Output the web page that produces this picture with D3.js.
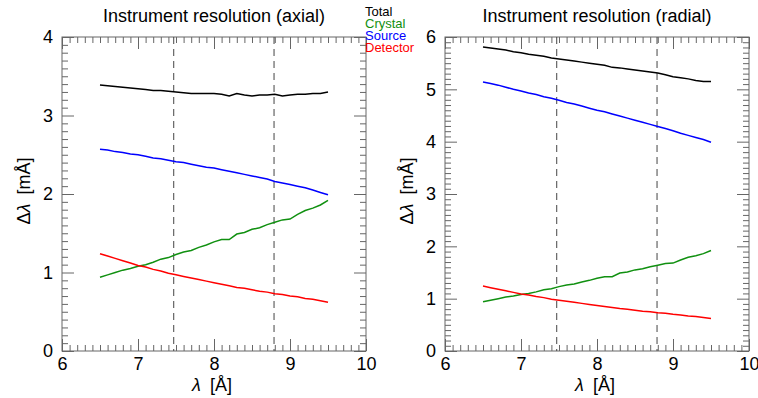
<!DOCTYPE html>
<html>
<head>
<meta charset="utf-8">
<script src="https://cdn.jsdelivr.net/npm/d3@7"></script>
<style>
  body { margin: 0; background: #fff; }
  svg { display: block; font-family: "Liberation Sans", Arial, Helvetica, sans-serif; }
</style>
</head>
<body>
<svg id="chart" width="758" height="398"></svg>
<script>
// wavelength grid [A]
const lambda = [6.5, 6.6, 6.7, 6.8, 6.9, 7.0, 7.1, 7.2, 7.3, 7.4, 7.5, 7.6, 7.7, 7.8, 7.9, 8.0,
                8.1, 8.2, 8.3, 8.4, 8.5, 8.6, 8.7, 8.8, 8.9, 9.0, 9.1, 9.2, 9.3, 9.4, 9.5];

// axial contributions [mA]
const totalAxial = [3.39, 3.38, 3.37, 3.36, 3.35, 3.34, 3.33, 3.32, 3.32, 3.31, 3.30, 3.29, 3.28, 3.28, 3.28, 3.28,
                    3.27, 3.25, 3.28, 3.26, 3.25, 3.26, 3.26, 3.27, 3.25, 3.26, 3.27, 3.27, 3.28, 3.28, 3.30];
const sourceAxial = [2.57, 2.56, 2.54, 2.53, 2.51, 2.50, 2.48, 2.46, 2.45, 2.43, 2.41, 2.40, 2.38, 2.36, 2.34, 2.33,
                     2.31, 2.29, 2.27, 2.25, 2.23, 2.21, 2.19, 2.16, 2.14, 2.12, 2.10, 2.08, 2.05, 2.02, 1.99];

// radial contributions [mA]
const totalRadial = [5.81, 5.79, 5.77, 5.75, 5.72, 5.70, 5.67, 5.65, 5.63, 5.60, 5.58, 5.56, 5.54, 5.52, 5.50, 5.48,
                     5.46, 5.42, 5.41, 5.39, 5.37, 5.35, 5.33, 5.31, 5.28, 5.24, 5.22, 5.20, 5.17, 5.15, 5.15];
const sourceRadial = [5.14, 5.11, 5.08, 5.04, 5.00, 4.97, 4.93, 4.90, 4.86, 4.83, 4.79, 4.75, 4.72, 4.68, 4.64, 4.60,
                      4.57, 4.53, 4.49, 4.45, 4.41, 4.37, 4.33, 4.29, 4.25, 4.21, 4.16, 4.12, 4.08, 4.04, 3.99];

// shared by both panels
const crystal = [0.94, 0.97, 1.00, 1.03, 1.05, 1.08, 1.10, 1.13, 1.17, 1.19, 1.23, 1.26, 1.28, 1.32, 1.35, 1.39,
                 1.42, 1.42, 1.49, 1.51, 1.55, 1.57, 1.61, 1.64, 1.67, 1.68, 1.74, 1.79, 1.82, 1.86, 1.92];
const detector = [1.24, 1.21, 1.18, 1.15, 1.12, 1.09, 1.07, 1.04, 1.02, 0.99, 0.97, 0.95, 0.93, 0.91, 0.89, 0.87,
                  0.85, 0.83, 0.81, 0.80, 0.78, 0.76, 0.75, 0.73, 0.72, 0.70, 0.69, 0.67, 0.66, 0.64, 0.62];

const markerLambda = [7.47, 8.79];
const xTicks = [6, 7, 8, 9, 10];
const axialTicks = [0, 1, 2, 3, 4];
const radialTicks = [0, 1, 2, 3, 4, 5, 6];
const legendLabels = ["Total", "Crystal", "Source", "Detector"];
const legendColors = ["#000000", "#109010", "#0000ff", "#ff0000"];

const svg = d3.select("#chart");
const axisColor = "#666";

function minorValues(lo, hi, step) {
    // every 0.1 that is not a whole number
    const out = [];
    for (let i = Math.round(lo / step); i <= Math.round(hi / step); i++) {
        if (i % 10 !== 0) out.push(i * step);
    }
    return out;
}

function drawPanel(left, title, yTicks, series) {
    const top = 37, bottom = 351, width = 304;
    const x = d3.scaleLinear().domain([6, 10]).range([left, left + width]);
    const y = d3.scaleLinear().domain([0, yTicks[yTicks.length - 1]]).range([bottom, top]);
    const g = svg.append("g");

    const styleAxis = sel => {
        sel.select(".domain").remove();
        sel.selectAll("line").attr("stroke", axisColor);
        sel.selectAll("text").attr("fill", "#000").style("font-size", "18px")
            .style("font-family", "'Liberation Sans', Arial, sans-serif");
    };

    const xMinor = minorValues(6, 10, 0.1);
    const yMinor = minorValues(0, yTicks[yTicks.length - 1], 0.1);

    // bottom axis (labels) + mirrored top, ticks point inward
    g.append("g").attr("transform", `translate(0,${bottom})`)
        .call(d3.axisBottom(x).tickValues(xTicks).tickSizeInner(-12).tickSizeOuter(0).tickPadding(6).tickFormat(d3.format("d")))
        .call(styleAxis);
    g.append("g").attr("transform", `translate(0,${bottom})`)
        .call(d3.axisBottom(x).tickValues(xMinor).tickSizeInner(-6).tickSizeOuter(0).tickFormat(""))
        .call(styleAxis);
    g.append("g").attr("transform", `translate(0,${top})`)
        .call(d3.axisTop(x).tickValues(xTicks).tickSizeInner(-12).tickSizeOuter(0).tickFormat(""))
        .call(styleAxis);
    g.append("g").attr("transform", `translate(0,${top})`)
        .call(d3.axisTop(x).tickValues(xMinor).tickSizeInner(-6).tickSizeOuter(0).tickFormat(""))
        .call(styleAxis);

    // left axis (labels) + mirrored right
    g.append("g").attr("transform", `translate(${left},0)`)
        .call(d3.axisLeft(y).tickValues(yTicks).tickSizeInner(-12).tickSizeOuter(0).tickPadding(9).tickFormat(d3.format("d")))
        .call(styleAxis);
    g.append("g").attr("transform", `translate(${left},0)`)
        .call(d3.axisLeft(y).tickValues(yMinor).tickSizeInner(-6).tickSizeOuter(0).tickFormat(""))
        .call(styleAxis);
    g.append("g").attr("transform", `translate(${left + width},0)`)
        .call(d3.axisRight(y).tickValues(yTicks).tickSizeInner(-12).tickSizeOuter(0).tickFormat(""))
        .call(styleAxis);
    g.append("g").attr("transform", `translate(${left + width},0)`)
        .call(d3.axisRight(y).tickValues(yMinor).tickSizeInner(-6).tickSizeOuter(0).tickFormat(""))
        .call(styleAxis);

    // frame
    g.append("rect")
        .attr("x", left).attr("y", top)
        .attr("width", width).attr("height", bottom - top)
        .attr("fill", "none").attr("stroke", axisColor).attr("stroke-width", 1);

    // dashed markers
    g.selectAll("line.marker").data(markerLambda).join("line")
        .attr("class", "marker")
        .attr("x1", d => x(d)).attr("x2", d => x(d))
        .attr("y1", top).attr("y2", bottom)
        .attr("stroke", "#444").attr("stroke-width", 1)
        .attr("stroke-dasharray", "7,5");

    const line = d3.line()
        .x((d, i) => x(lambda[i]))
        .y(d => y(d));

    series.forEach((vals, k) => {
        g.append("path")
            .datum(vals)
            .attr("d", line)
            .attr("fill", "none")
            .attr("stroke", legendColors[k])
            .attr("stroke-width", 1.5);
    });

    // title
    g.append("text")
        .attr("x", left + width / 2).attr("y", 22)
        .attr("text-anchor", "middle")
        .style("font-size", "18px")
        .text(title);

    // x label
    const xl = g.append("text")
        .attr("x", left + width / 2 - 2).attr("y", 391)
        .attr("text-anchor", "middle")
        .style("font-size", "18px");
    xl.append("tspan").style("font-style", "italic").text("λ");
    xl.append("tspan").text("\u2002[Å]");

    // y label
    const yl = g.append("text")
        .attr("transform", `translate(${left - 32},${(top + bottom) / 2 - 3}) rotate(-90)`)
        .attr("text-anchor", "middle")
        .style("font-size", "18px");
    yl.append("tspan").text("Δ");
    yl.append("tspan").style("font-style", "italic").text("λ");
    yl.append("tspan").text("\u2002[mÅ]");
}

drawPanel(62, "Instrument resolution (axial)", axialTicks, [totalAxial, crystal, sourceAxial, detector]);
drawPanel(445, "Instrument resolution (radial)", radialTicks, [totalRadial, crystal, sourceRadial, detector]);

// legend between panels
svg.append("g").selectAll("text").data(legendLabels).join("text")
    .attr("x", 365)
    .attr("y", (d, i) => 16 + i * 12)
    .attr("fill", (d, i) => legendColors[i])
    .style("font-size", "13px")
    .text(d => d);
</script>
</body>
</html>
